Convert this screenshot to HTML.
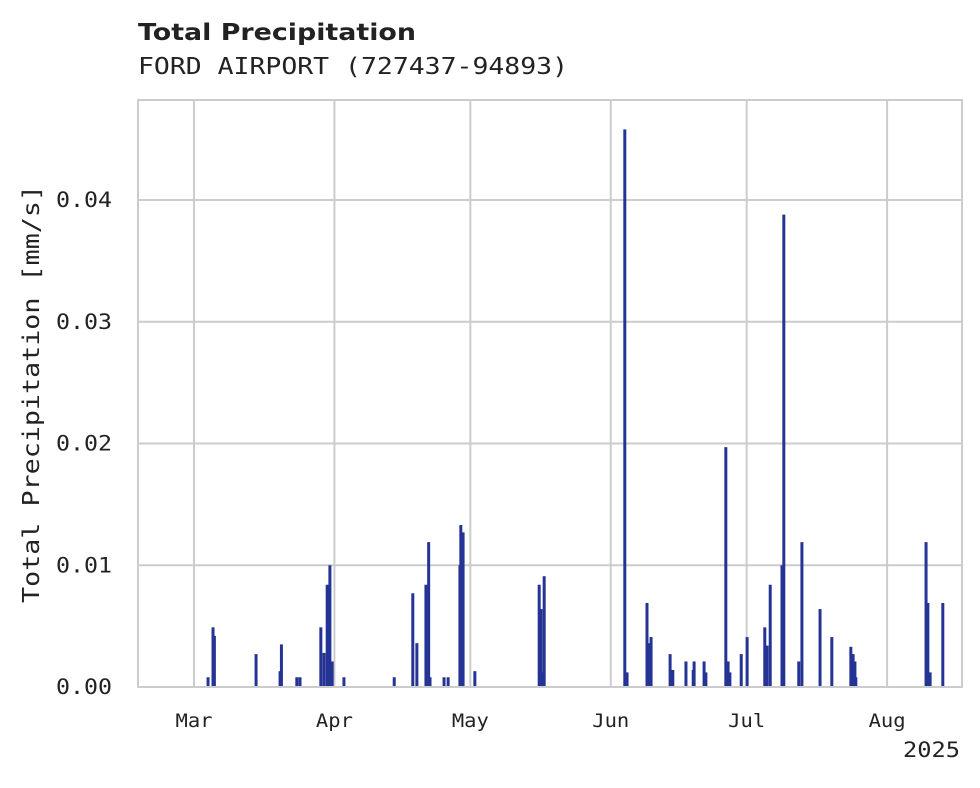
<!DOCTYPE html>
<html><head><meta charset="utf-8">
<style>
body{margin:0;background:#fff;}
svg text{font-family:"DejaVu Sans Mono","Liberation Mono",monospace;fill:#222;}
</style></head>
<body>
<svg id="chart" width="980" height="783" xmlns="http://www.w3.org/2000/svg">
<text x="138" y="40" textLength="278" lengthAdjust="spacingAndGlyphs" style="font-family:'DejaVu Sans','Liberation Sans',sans-serif;font-weight:bold;font-size:23px">Total Precipitation</text>
<text x="138" y="74" font-size="23" textLength="430" lengthAdjust="spacingAndGlyphs">FORD AIRPORT (727437-94893)</text>
<g id="grid"></g>
<g id="bars"></g>
<rect x="138" y="100" width="824" height="587" fill="none" stroke="#ccc" stroke-width="2"/>
<g id="labels"></g>
<text transform="translate(39,394) rotate(-90)" text-anchor="middle" font-size="23" textLength="418" lengthAdjust="spacingAndGlyphs">Total Precipitation [mm/s]</text>
<text x="960" y="757" text-anchor="end" font-size="21" textLength="57" lengthAdjust="spacingAndGlyphs">2025</text>
</svg>
<script>
// days since Mar 1, 2025
const days=[3.1,4.2,4.5,13.7,19.0,19.3,22.7,23.4,28.0,28.7,29.4,30.0,30.5,33.1,44.2,48.3,49.2,51.2,51.8,52.1,55.2,56.1,58.7,58.9,59.4,62.0,76.2,76.6,76.8,77.3,95.1,95.6,100.0,100.4,100.9,105.1,105.7,108.6,110.2,110.4,112.6,113.0,117.4,117.9,118.3,120.8,122.1,126.0,126.5,127.2,129.8,130.2,133.5,134.2,138.2,140.8,145.0,145.5,145.9,146.1,161.6,162.0,162.5,165.3];
const values=[0.0008,0.0049,0.0042,0.0027,0.0013,0.0035,0.0008,0.0008,0.0049,0.0028,0.0084,0.0100,0.0021,0.0008,0.0008,0.0077,0.0036,0.0084,0.0119,0.0008,0.0008,0.0008,0.0100,0.0133,0.0127,0.0013,0.0084,0.0064,0.0012,0.0091,0.0458,0.0012,0.0069,0.0036,0.0041,0.0027,0.0014,0.0021,0.0014,0.0021,0.0021,0.0012,0.0197,0.0021,0.0012,0.0027,0.0041,0.0049,0.0034,0.0084,0.0100,0.0388,0.0021,0.0119,0.0064,0.0041,0.0033,0.0027,0.0021,0.0008,0.0119,0.0069,0.0012,0.0069];
const yTicks=[0,0.01,0.02,0.03,0.04];
const yTickLabels=["0.00","0.01","0.02","0.03","0.04"];
const monthDays=[0,31,61,92,122,153];
const monthLabels=["Mar","Apr","May","Jun","Jul","Aug"];
const NS="http://www.w3.org/2000/svg";
const X=d=>194+d*4.53;
const Y=v=>687-v*12175;
const grid=document.getElementById('grid'),bars=document.getElementById('bars'),labels=document.getElementById('labels');
function mk(tag,attrs,parent){const e=document.createElementNS(NS,tag);for(const k in attrs)e.setAttribute(k,attrs[k]);parent.appendChild(e);return e;}
yTicks.forEach((t,i)=>{
  const l=mk('line',{x1:138,x2:962,y1:Y(t),y2:Y(t),stroke:'#ccc','stroke-width':2},grid);
  
  
  const tx=mk('text',{x:112,y:Y(t)+7,'text-anchor':'end','font-size':21,textLength:56,lengthAdjust:'spacingAndGlyphs'},labels);
  tx.textContent=yTickLabels[i];
  
  
});
monthDays.forEach((d,i)=>{
  const l=mk('line',{x1:X(d),x2:X(d),y1:100,y2:687,stroke:'#ccc','stroke-width':2},grid);
  
  
  const tx=mk('text',{x:X(d),y:727,'text-anchor':'middle','font-size':19,textLength:37,lengthAdjust:'spacingAndGlyphs'},labels);
  tx.textContent=monthLabels[i];
  
  
});
days.forEach((d,i)=>{
  const y=Y(values[i]);
  const r=mk('rect',{x:X(d)-1.5,y:y,width:3,height:687-y,fill:'#253494'},bars);
  
  
});
</script>
</body></html>
